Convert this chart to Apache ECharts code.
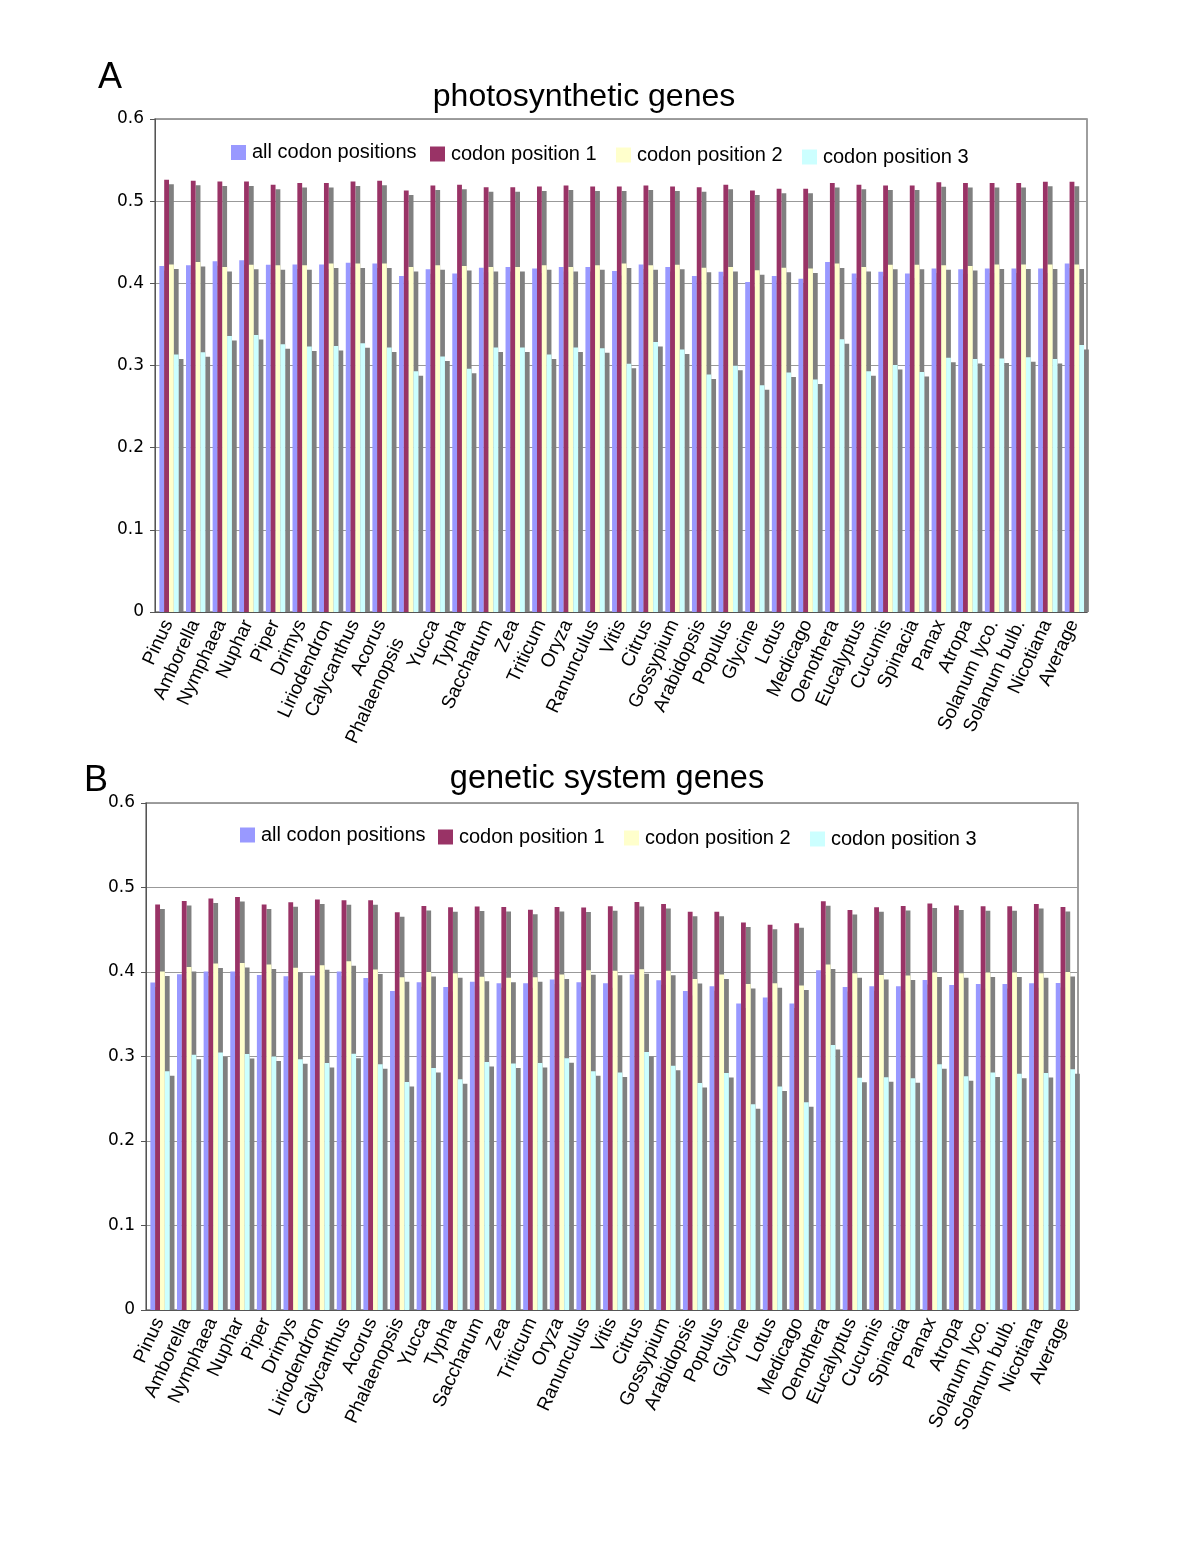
<!DOCTYPE html>
<html><head><meta charset="utf-8">
<script src="https://cdn.jsdelivr.net/npm/echarts@6/dist/echarts.min.js"></script>
<style>html,body{margin:0;padding:0;background:#fff}#c{width:1200px;height:1553px}</style>
</head><body><div id="c"></div>
<script>
const categories = ['Pinus','Amborella','Nymphaea','Nuphar','Piper','Drimys','Liriodendron','Calycanthus','Acorus','Phalaenopsis','Yucca','Typha','Saccharum','Zea','Triticum','Oryza','Ranunculus','Vitis','Citrus','Gossypium','Arabidopsis','Populus','Glycine','Lotus','Medicago','Oenothera','Eucalyptus','Cucumis','Spinacia','Panax','Atropa','Solanum lyco.','Solanum bulb.','Nicotiana','Average'];
const seriesNames = ['all codon positions','codon position 1','codon position 2','codon position 3'];
const yTickValues = [0, 0.1, 0.2, 0.3, 0.4, 0.5, 0.6];

// A: photosynthetic genes
const photoAll = [0.421,0.422,0.427,0.428,0.4225,0.423,0.423,0.425,0.424,0.409,0.417,0.412,0.419,0.420,0.418,0.420,0.420,0.415,0.423,0.420,0.409,0.414,0.4015,0.409,0.4055,0.426,0.412,0.414,0.412,0.418,0.417,0.418,0.418,0.418,0.424];
const photoPos1 = [0.526,0.525,0.524,0.524,0.520,0.522,0.522,0.524,0.525,0.513,0.519,0.520,0.517,0.517,0.518,0.519,0.518,0.518,0.519,0.518,0.517,0.520,0.513,0.515,0.515,0.522,0.520,0.519,0.519,0.523,0.522,0.522,0.522,0.5235,0.5235];
const photoPos2 = [0.423,0.426,0.420,0.4225,0.422,0.422,0.424,0.424,0.424,0.420,0.422,0.421,0.420,0.420,0.422,0.420,0.422,0.424,0.422,0.4225,0.419,0.420,0.416,0.419,0.418,0.424,0.420,0.4225,0.4225,0.422,0.421,0.423,0.423,0.423,0.423];
const photoPos3 = [0.3135,0.316,0.336,0.337,0.326,0.323,0.3236,0.327,0.322,0.293,0.311,0.296,0.322,0.322,0.3135,0.322,0.321,0.302,0.3285,0.3195,0.289,0.2997,0.276,0.2915,0.283,0.332,0.293,0.3005,0.292,0.3094,0.3078,0.3086,0.310,0.308,0.325];

// B: genetic system genes
const geneAll = [0.3875,0.3973,0.4005,0.4005,0.3965,0.395,0.396,0.4005,0.393,0.3776,0.3878,0.3823,0.3886,0.3866,0.3866,0.391,0.3878,0.3866,0.397,0.3902,0.3776,0.383,0.3626,0.3697,0.3626,0.402,0.3823,0.383,0.383,0.3906,0.3846,0.3858,0.3858,0.3866,0.387];
const genePos1 = [0.4798,0.484,0.487,0.4888,0.4798,0.4825,0.4857,0.485,0.485,0.4707,0.478,0.4766,0.4774,0.477,0.4738,0.477,0.4762,0.4778,0.4829,0.4805,0.4714,0.4714,0.4585,0.456,0.4576,0.4837,0.4734,0.4766,0.478,0.481,0.4786,0.4778,0.4778,0.4805,0.477];
const genePos2 = [0.4005,0.406,0.410,0.4107,0.409,0.405,0.408,0.4127,0.403,0.3937,0.400,0.3985,0.3945,0.3933,0.3937,0.397,0.402,0.4016,0.4032,0.4016,0.3917,0.397,0.3858,0.3866,0.3839,0.409,0.3985,0.3965,0.396,0.3993,0.3985,0.3993,0.3993,0.3985,0.400];
const genePos3 = [0.2825,0.302,0.3046,0.303,0.300,0.2967,0.2923,0.3034,0.2908,0.2698,0.2864,0.273,0.2935,0.2916,0.2923,0.2979,0.2825,0.281,0.3054,0.2892,0.2686,0.2805,0.2434,0.2644,0.2458,0.3136,0.275,0.2754,0.2742,0.2908,0.2766,0.281,0.2797,0.2805,0.2848];

const colors = ['#9999ff','#993366','#ffffcc','#ccffff'];
const shadowColor = '#808080';

function makeRender(k, color) {
  return function (params, api) {
    const i = api.value(0), v = api.value(1);
    const p0 = api.coord([i, 0]);
    const p1 = api.coord([i, v]);
    const band = api.size([1, 0])[0];
    const bw = band * 0.181;
    const x = p0[0] - 2 * bw + k * bw + 0.7;
    const dy = 4.5;
    return { type: 'group', children: [
      { type: 'rect', shape: { x: x + bw, y: p1[1] + dy, width: bw, height: Math.max(0, p0[1] - p1[1] - dy) }, style: { fill: shadowColor } },
      { type: 'rect', shape: { x: x, y: p1[1], width: bw, height: p0[1] - p1[1] }, style: { fill: color } }
    ]};
  };
}

function mkSeries(panel, arrs) {
  return arrs.map((arr, k) => ({
    type: 'custom', name: seriesNames[k], xAxisIndex: panel, yAxisIndex: panel,
    itemStyle: { color: colors[k] },
    renderItem: makeRender(k, colors[k]),
    encode: { x: 0, y: 1 },
    data: arr.map((v, i) => [i, v])
  }));
}

const FONT = 'Liberation Sans, Arial, Helvetica, sans-serif';
function mkX(idx, catData) {
  return { type: 'category', gridIndex: idx, data: catData, boundaryGap: true,
    axisLine: { show: true, lineStyle: { color: '#555', width: 1 } },
    axisTick: { show: false },
    axisLabel: { interval: 0, rotate: 65, margin: 9, fontSize: 19, color: '#000', fontFamily: FONT },
    splitLine: { show: false } };
}
function mkY(idx) {
  return { type: 'value', gridIndex: idx, min: yTickValues[0], max: yTickValues[yTickValues.length - 1], interval: 0.1,
    axisLine: { show: true, lineStyle: { color: '#555', width: 1 } },
    axisTick: { show: true, length: 5, lineStyle: { color: '#555' } },
    axisLabel: { fontSize: 17, color: '#000', margin: 11, fontFamily: 'DejaVu Sans, Verdana, sans-serif' },
    splitLine: { show: true, lineStyle: { color: '#999', width: 1 } } };
}

// In panel A the "Phalaenopsis" label sits slightly further from the axis
const catsA = categories.map(c => c === 'Phalaenopsis' ? { value: c, textStyle: { padding: [0, 20, 0, 0] } } : c);

const legA = [[231, 152.5], [430, 154], [616, 155], [802, 157]];
const legB = [[240, 835], [438, 837], [624, 838], [810, 839]];
const legends = [];
[legA, legB].forEach(pos => pos.forEach((p, k) => {
  legends.push({ left: p[0], top: p[1] - 10, padding: 0, itemWidth: 15, itemHeight: 15, icon: 'rect',
    itemGap: 0, data: [seriesNames[k]], selectedMode: false,
    textStyle: { fontSize: 20, color: '#000', fontFamily: FONT, padding: [0, 0, 0, 1] } });
}));

const chart = echarts.init(document.getElementById('c'), null, { renderer: 'canvas' });
chart.setOption({
  animation: false,
  backgroundColor: '#fff',
  grid: [
    { left: 155, right: 113, top: 119, bottom: 941, show: true, borderColor: '#7f7f7f', borderWidth: 1.5, containLabel: false },
    { left: 146, right: 122, top: 803, bottom: 243, show: true, borderColor: '#7f7f7f', borderWidth: 1.5, containLabel: false }
  ],
  xAxis: [mkX(0, catsA), mkX(1, categories)],
  yAxis: [mkY(0), mkY(1)],
  legend: legends,
  graphic: [
    { type: 'text', x: 584, y: 97, style: { text: 'photosynthetic genes', fontSize: 32, fontFamily: FONT, fill: '#000', textAlign: 'center', textVerticalAlign: 'middle' } },
    { type: 'text', x: 607, y: 779, style: { text: 'genetic system genes', fontSize: 32.5, fontFamily: FONT, fill: '#000', textAlign: 'center', textVerticalAlign: 'middle' } },
    { type: 'text', x: 110, y: 78, style: { text: 'A', fontSize: 36, fontFamily: FONT, fill: '#000', textAlign: 'center', textVerticalAlign: 'middle' } },
    { type: 'text', x: 96, y: 781, style: { text: 'B', fontSize: 36, fontFamily: FONT, fill: '#000', textAlign: 'center', textVerticalAlign: 'middle' } }
  ],
  series: [].concat(mkSeries(0, [photoAll, photoPos1, photoPos2, photoPos3]), mkSeries(1, [geneAll, genePos1, genePos2, genePos3]))
});
</script></body></html>
